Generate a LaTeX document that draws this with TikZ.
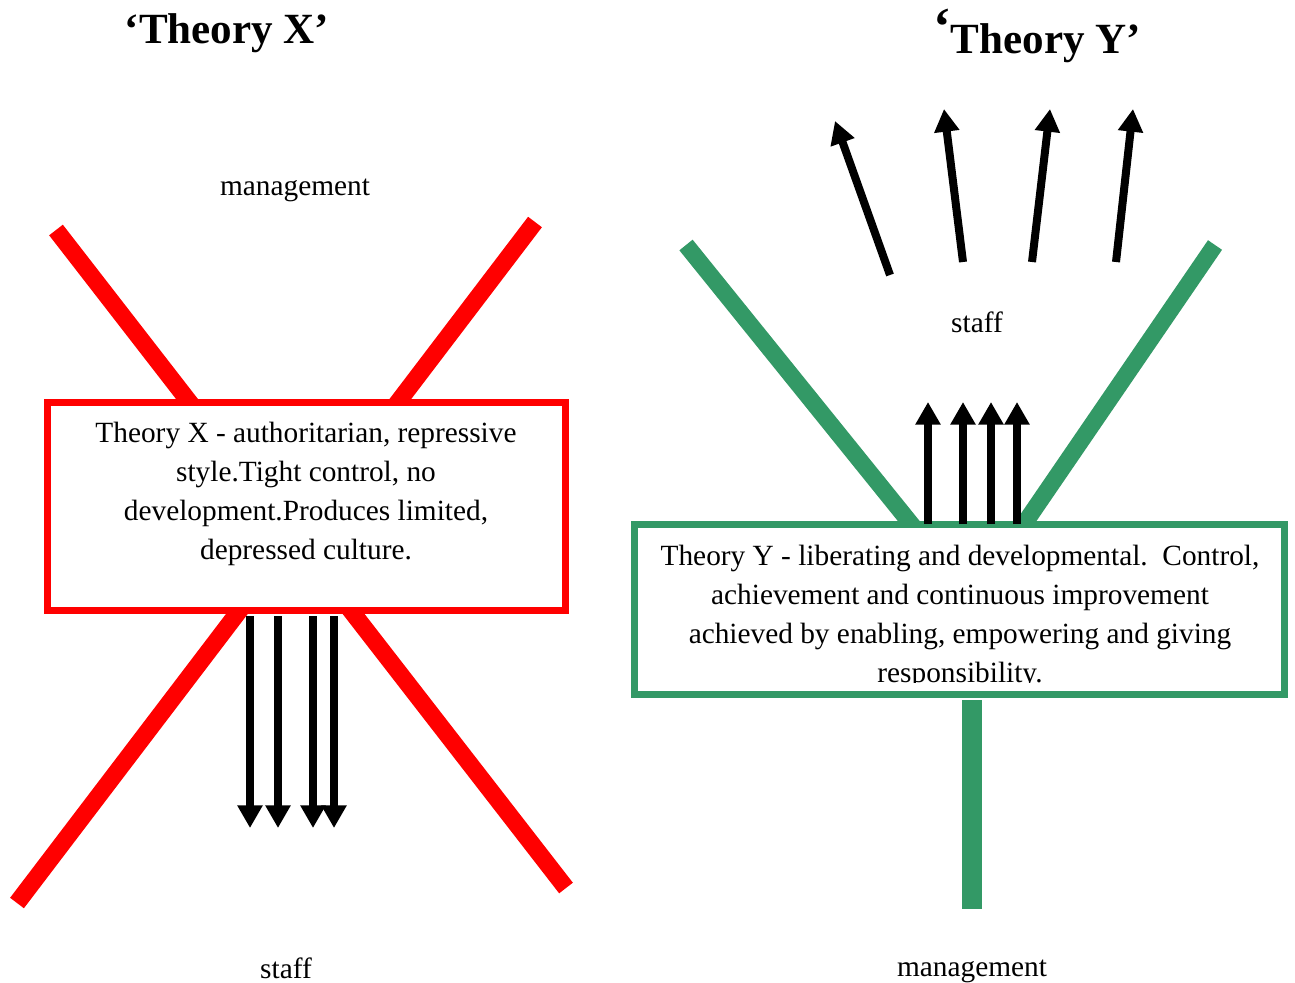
\documentclass[tikz,border=0pt]{standalone}
\usepackage{fontspec}
\setmainfont{Liberation Serif}
\usetikzlibrary{arrows.meta}
\definecolor{xred}{RGB}{255,0,0}
\definecolor{ygreen}{RGB}{51,153,102}
\tikzset{
  redbar/.style={draw=xred, line width=13pt},
  greenbar/.style={draw=ygreen, line width=12.75pt},
  stembar/.style={draw=ygreen, line width=14.5pt},
  xbox/.style={draw=xred, line width=5pt, fill=white, minimum width=518pt*0.75, minimum height=208pt*0.75, inner sep=0pt},
  ybox/.style={draw=ygreen, line width=5pt, fill=white, minimum width=650pt*0.75, minimum height=170pt*0.75, inner sep=0pt},
  bodytext/.style={font=\fontsize{22}{29.25}\selectfont, align=center, inner sep=0pt},
  titletext/.style={font=\fontsize{32.3}{36}\selectfont\bfseries, inner sep=0pt},
  fatarrow/.style={draw=black, line width=6pt, -{Triangle[width=18pt,length=17pt]}},
}
\begin{document}
\begin{tikzpicture}[x=0.75pt, y=-0.75pt]
\useasboundingbox (0,0) rectangle (1295,982);
% ---------- Theory X ----------
\node[titletext] (titleX) at (227,33) {‘Theory X’};
\node[bodytext] (mgmtX) at (295,190) {management};
\node[bodytext] (staffX) at (286,968) {staff};
\coordinate (x1a) at (56,230);
\coordinate (x1b) at (566,888);
\coordinate (x2a) at (535,222);
\coordinate (x2b) at (17,903);
\draw[redbar] (x1a) -- (x1b);
\draw[redbar] (x2a) -- (x2b);
\node[xbox] (boxX) at (306.5,506.5) {};
\node[bodytext] (textX) at (306,493.5) {Theory X - authoritarian, repressive\\ style.Tight control, no\\ development.Produces limited,\\ depressed culture.};
\foreach \i/\xx in {1/250,2/278,3/313,4/334}{
  \coordinate (xs\i) at (\xx,616);
  \coordinate (xe\i) at (\xx,828);
  \draw[fatarrow] (xs\i) -- (xe\i);
}
% ---------- Theory Y ----------
\node[titletext] (titleY) at (1037,36) {\raisebox{7pt}{\fontsize{40}{42}\selectfont ‘}Theory Y’};
\node[bodytext] (staffY) at (977,322) {staff};
\node[bodytext] (mgmtY) at (972,971) {management};
\coordinate (y1a) at (686,245);
\coordinate (y1b) at (916,530);
\coordinate (y2a) at (1215,245);
\coordinate (y2b) at (1020,530);
\coordinate (ys1) at (972,700);
\coordinate (ys2) at (972,909);
\draw[greenbar] (y1a) -- (y1b);
\draw[greenbar] (y2a) -- (y2b);
\draw[stembar] (ys1) -- (ys2);
\node[ybox] (boxY) at (959.5,609.5) {};
\begin{scope}
  \clip (637,527) rectangle (1282,682);
  \node[bodytext] (textY) at (960,617) {Theory Y - liberating and developmental.\ \ Control,\\ achievement and continuous improvement\\ achieved by enabling, empowering and giving\\ responsibility.};
\end{scope}
\foreach \i/\xx in {1/928,2/963,3/991,4/1017}{
  \coordinate (us\i) at (\xx,524);
  \coordinate (ue\i) at (\xx,402);
  \draw[fatarrow] (us\i) -- (ue\i);
}
\coordinate (ba1) at (890,275);
\coordinate (bb1) at (835,121);
\coordinate (ba2) at (963,262);
\coordinate (bb2) at (944,109);
\coordinate (ba3) at (1032,262);
\coordinate (bb3) at (1050,109);
\coordinate (ba4) at (1116,262);
\coordinate (bb4) at (1133,109);
\foreach \i in {1,2,3,4}{
  \draw[fatarrow] (ba\i) -- (bb\i);
}
\end{tikzpicture}
\end{document}
